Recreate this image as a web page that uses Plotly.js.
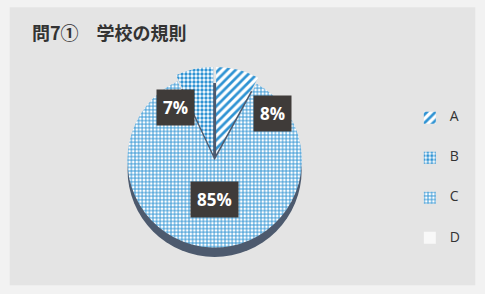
<!DOCTYPE html>
<html><head><meta charset="utf-8">
<script src="https://cdn.plot.ly/plotly-3.0.1.min.js"></script>
<style>html,body{margin:0;padding:0;background:#f2f2f2;}#chart{width:485px;height:294px;}</style>
</head><body><div id="chart"></div>
<script>
const categories = ["A", "B", "C", "D"];
const percents = [8, 7, 85, 0];
const labelTexts = ["8%", "7%", "85%"];
const titleText = "問7①　学校の規則";

const blue = "#2f93d3";
const patterns = [
  {shape: "/", fgcolor: blue, bgcolor: "#ffffff", size: 6, solidity: 0.45},
  {shape: ".", fgcolor: blue, bgcolor: "#ffffff", size: 4, solidity: 0.55},
  {shape: "+", fgcolor: blue, bgcolor: "#ffffff", size: 3.6, solidity: 0.45},
  {shape: "", fgcolor: "#ffffff", bgcolor: "#f8f8f8", size: 4, solidity: 0.3}
];

function legendLabel(c) {
  return " <br><span style='font-size:14px'>" + c + "</span><br> ";
}

const pie = {
  type: "pie",
  labels: categories.map(legendLabel),
  values: percents,
  sort: false,
  direction: "counterclockwise",
  rotation: 0,
  pull: [0.07, 0.07, 0, 0],
  textinfo: "none",
  hoverinfo: "none",
  marker: {
    colors: ["#ffffff", "#ffffff", "#ffffff", "#f8f8f8"],
    pattern: {
      shape: patterns.map(p => p.shape),
      fgcolor: patterns.map(p => p.fgcolor),
      bgcolor: patterns.map(p => p.bgcolor),
      size: patterns.map(p => p.size),
      solidity: patterns.map(p => p.solidity)
    },
    line: {width: 0}
  },
  domain: {x: [0.25, 0.635], y: [0.12, 0.79]}
};

const annFont = {family: "Open Sans, DejaVu Sans, sans-serif", size: 17, color: "#ffffff", weight: "bold"};
const annotations = [
  {text: "<b>" + labelTexts[1] + "</b>", x: 0.361, y: 0.636},
  {text: "<b>" + labelTexts[0] + "</b>", x: 0.561, y: 0.615},
  {text: "<b>" + labelTexts[2] + "</b>", x: 0.443, y: 0.32}
].map(a => Object.assign(a, {
  xref: "paper", yref: "paper", showarrow: false, xanchor: "center", yanchor: "middle",
  bgcolor: "#3f3b39", borderpad: 6, font: annFont
}));

const layout = {
  width: 485, height: 294,
  margin: {l: 0, r: 0, t: 0, b: 0},
  paper_bgcolor: "#f2f2f2",
  showlegend: true,
  title: {
    text: "<b>" + titleText + "</b>",
    x: 0.066, xanchor: "left", y: 0.885, yanchor: "middle",
    font: {family: "Noto Sans CJK JP, sans-serif", size: 18, color: "#333333"}
  },
  legend: {
    x: 0.845, xanchor: "left", y: 0.685, yanchor: "top",
    bgcolor: "rgba(0,0,0,0)",
    font: {family: "Open Sans, DejaVu Sans, sans-serif", size: 9.5, color: "#333333"},
    valign: "middle", itemwidth: 30
  },
  shapes: [
    {type: "rect", xref: "paper", yref: "paper", x0: 0.02, x1: 0.98, y0: 0.03, y1: 0.975,
     fillcolor: "#e4e4e4", line: {width: 0}, layer: "below"},
    {type: "circle", xref: "paper", yref: "paper", x0: 0.263, x1: 0.622, y0: 0.126, y1: 0.718,
     fillcolor: "#4d5a6e", line: {width: 0}, layer: "below"}
  ],
  annotations: annotations
};

Plotly.newPlot("chart", [pie], layout, {displayModeBar: false, staticPlot: true});
</script>
</body></html>
